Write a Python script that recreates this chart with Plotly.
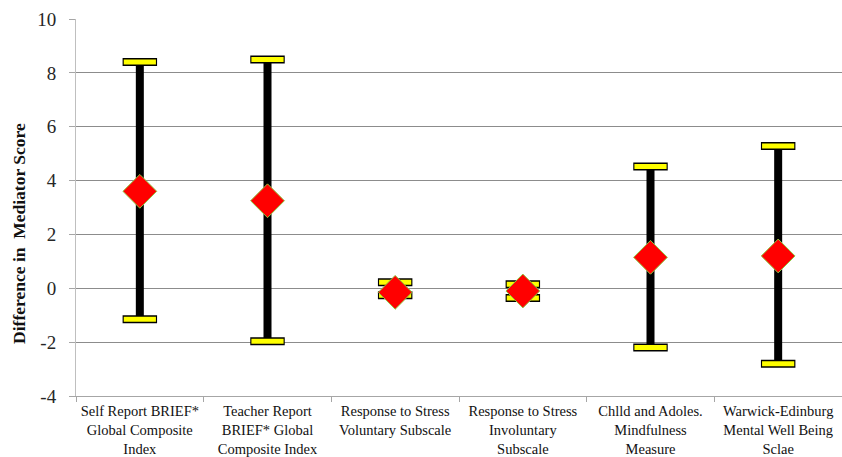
import plotly.graph_objects as go

# Mediator measures and their mean difference with 95% confidence limits
categories = [
    "Self Report BRIEF*<br>Global Composite<br>Index",
    "Teacher Report<br>BRIEF* Global<br>Composite Index",
    "Response to Stress<br>Voluntary Subscale",
    "Response to Stress<br>Involuntary<br>Subscale",
    "Chlld and Adoles.<br>Mindfulness<br>Measure",
    "Warwick-Edinburg<br>Mental Well Being<br>Sclae",
]
mean_diff = [3.6, 3.25, -0.15, -0.1, 1.15, 1.2]
upper_ci = [8.4, 8.5, 0.22, 0.15, 4.52, 5.28]
lower_ci = [-1.15, -1.97, -0.26, -0.36, -2.2, -2.8]

y_ticks = [-4, -2, 0, 2, 4, 6, 8, 10]
y_tick_text = ["-4", "-2", "0", "2", "4", "6", "8", "10"]

positions = list(range(len(categories)))
CAP_HALF = 0.135     # half-width of cap (x units, one unit per category)
CAP_INNER = 0.126

def segments(xs_pairs, ys_pairs):
    xs, ys = [], []
    for (xa, xb), (ya, yb) in zip(xs_pairs, ys_pairs):
        xs += [xa, xb, None]
        ys += [ya, yb, None]
    return xs, ys

fig = go.Figure()

# vertical confidence-interval bars
vx, vy = segments([(p, p) for p in positions], list(zip(lower_ci, upper_ci)))
fig.add_trace(go.Scatter(x=vx, y=vy, mode="lines",
                         line=dict(color="black", width=8),
                         hoverinfo="skip", showlegend=False))

# caps: black outline then yellow fill
cap_vals = upper_ci + lower_ci
cap_pos = positions + positions
ox, oy = segments([(p - CAP_HALF, p + CAP_HALF) for p in cap_pos],
                  [(v, v) for v in cap_vals])
fig.add_trace(go.Scatter(x=ox, y=oy, mode="lines",
                         line=dict(color="black", width=8),
                         hoverinfo="skip", showlegend=False))
ix, iy = segments([(p - CAP_INNER, p + CAP_INNER) for p in cap_pos],
                  [(v, v) for v in cap_vals])
fig.add_trace(go.Scatter(x=ix, y=iy, mode="lines",
                         line=dict(color="#ffff00", width=5),
                         hoverinfo="skip", showlegend=False))

# mean difference markers
fig.add_trace(go.Scatter(x=positions, y=mean_diff, mode="markers",
                         marker=dict(symbol="diamond", size=26, color="#ff0000",
                                     line=dict(color="#8dc63f", width=1)),
                         showlegend=False))

fig.update_layout(
    width=842, height=457,
    margin=dict(l=76, r=0, t=19, b=61),
    paper_bgcolor="white", plot_bgcolor="white",
    font=dict(family="Liberation Serif", color="#222222"),
)

fig.update_xaxes(
    range=[-0.5, 5.5],
    tickmode="array", tickvals=positions, ticktext=categories,
    tickfont=dict(size=14.5, color="#111111"),
    ticks="", showgrid=False, zeroline=False,
    showline=True, linecolor="#a6a6a6", linewidth=1,
    ticklabelstandoff=2,
    minor=dict(ticks="outside", tick0=-0.5, dtick=1, ticklen=5,
               tickcolor="#a6a6a6", showgrid=False),
)

fig.update_yaxes(
    range=[-4, 10],
    tickmode="array", tickvals=y_ticks, ticktext=y_tick_text,
    tickfont=dict(size=19, color="#262626"),
    ticks="outside", ticklen=6, tickcolor="#a6a6a6",
    ticklabelstandoff=9,
    showgrid=True, gridcolor="#8c8c8c", gridwidth=1,
    zeroline=False,
    showline=True, linecolor="#bfbfbf", linewidth=1,
)

# y-axis title, set a little below the vertical middle of the plot
fig.add_annotation(
    text="<b>Difference in  Mediator Score</b>",
    xref="paper", yref="paper", x=0, y=0.43,
    xanchor="center", yanchor="middle", xshift=-57,
    textangle=-90, showarrow=False,
    font=dict(family="Liberation Serif", size=17.5, color="#111111"),
)

fig.write_html("out.html")
